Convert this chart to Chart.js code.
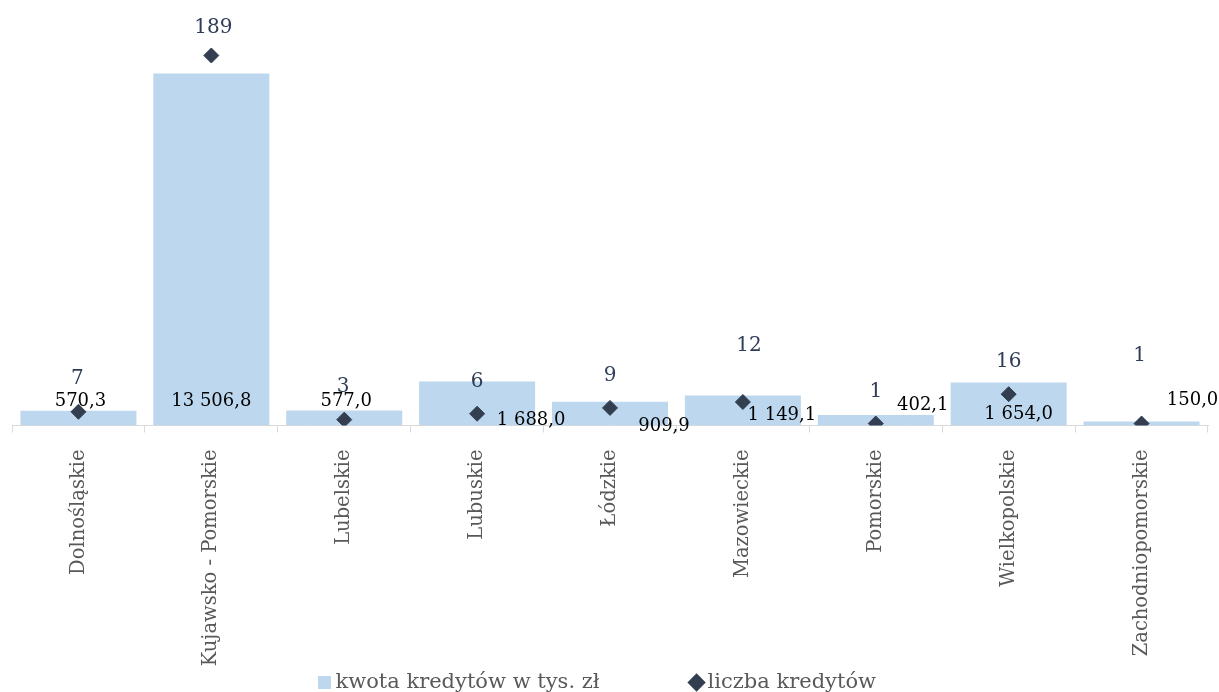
<!DOCTYPE html>
<html>
<head>
<meta charset="utf-8">
<script src="https://cdn.jsdelivr.net/npm/chart.js@4.4.1/dist/chart.umd.min.js"></script>
<style>
  body { margin: 0; background: #fff; }
  #wrap { width: 1219px; height: 692px; position: relative; }
</style>
</head>
<body>
<div id="wrap"><canvas id="myChart"></canvas></div>
<script>
const regions = ['Dolnośląskie', 'Kujawsko - Pomorskie', 'Lubelskie', 'Lubuskie', 'Łódzkie',
    'Mazowieckie', 'Pomorskie', 'Wielkopolskie', 'Zachodniopomorskie'];
const amounts = [570.3, 13506.8, 577.0, 1688.0, 909.9, 1149.1, 402.1, 1654.0, 150.0];
const counts = [7, 189, 3, 6, 9, 12, 1, 16, 1];

// label nudges (px): [dx, up from base]
const amountLabelPos = [[2, 24], [0, 24], [2, 24], [54, 5], [54, -1], [39, 10], [47, 20], [10, 11], [51, 25]];
const countLabelPos = [[-1, 33], [2, 28], [-1, 33], [0, 32], [0, 32], [6, 56], [0, 32], [0, 32], [-2, 68]];

const fmt = (v) => v.toFixed(1).replace('.', ',').replace(/\B(?=(\d{3})+(?!\d))/g, ' ');

const serif = "'DejaVu Serif', 'Liberation Serif', serif";

const valueLabels = {
    id: 'valueLabels',
    afterDatasetsDraw(chart) {
        const ctx = chart.ctx;
        ctx.save();
        ctx.textAlign = 'center';
        ctx.textBaseline = 'middle';

        ctx.font = '18px ' + serif;
        ctx.fillStyle = '#000000';
        chart.getDatasetMeta(0).data.forEach((bar, i) => {
            const p = amountLabelPos[i];
            ctx.fillText(fmt(amounts[i]), bar.x + p[0], bar.base - p[1]);
        });

        ctx.font = '20px ' + serif;
        ctx.fillStyle = '#2f3d58';
        chart.getDatasetMeta(1).data.forEach((pt, i) => {
            const p = countLabelPos[i];
            ctx.fillText(String(counts[i]), pt.x + p[0], pt.y - p[1]);
        });
        ctx.restore();
    }
};

const ctx = document.getElementById('myChart').getContext('2d');
const myChart = new Chart(ctx, {
    type: 'bar',
    data: {
        labels: regions,
        datasets: [{
            label: 'kwota kredytów w tys. zł',
            data: amounts,
            backgroundColor: '#bdd7ee',
            borderWidth: 0,
            categoryPercentage: 1,
            barPercentage: 0.873,
            pointStyle: 'rect',
            yAxisID: 'y',
            order: 2
        }, {
            type: 'line',
            label: 'liczba kredytów',
            data: counts,
            showLine: false,
            pointStyle: 'rectRot',
            pointRadius: 7.5,
            pointBackgroundColor: '#333f50',
            pointBorderColor: '#333f50',
            backgroundColor: '#333f50',
            borderColor: '#333f50',
            yAxisID: 'y1',
            order: 1
        }]
    },
    options: {
        responsive: true,
        maintainAspectRatio: false,
        animation: false,
        layout: { padding: { top: 5, left: 12, right: 11, bottom: -11 } },
        plugins: {
            tooltip: { enabled: false },
            legend: {
                position: 'bottom',
                labels: {
                    usePointStyle: true,
                    boxWidth: 1,
                    boxHeight: 13,
                    padding: 3,
                    color: '#595959',
                    font: { family: serif, size: 21 },
                    sort: (a, b) => a.datasetIndex - b.datasetIndex,
                    generateLabels(chart) {
                        const items = Chart.defaults.plugins.legend.labels.generateLabels(chart);
                        items.forEach((it) => {
                            it.lineWidth = 0;
                            it.text += '\u00a0'.repeat(it.datasetIndex === 0 ? 14 : 3);
                        });
                        return items;
                    }
                }
            }
        },
        scales: {
            x: {
                afterFit(scale) { scale.height = 243.5; },
                grid: {
                    display: true,
                    drawOnChartArea: false,
                    drawTicks: true,
                    tickLength: 7,
                    color: '#d9d9d9'
                },
                border: { color: '#d9d9d9', width: 1 },
                ticks: {
                    autoSkip: false,
                    minRotation: 90,
                    maxRotation: 90,
                    padding: 17,
                    color: '#595959',
                    font: { family: serif, size: 19.5 }
                }
            },
            y: {
                display: false,
                min: 0,
                max: 16000
            },
            y1: {
                display: false,
                position: 'right',
                min: 0,
                max: 213
            }
        }
    },
    plugins: [valueLabels]
});
</script>
</body>
</html>
